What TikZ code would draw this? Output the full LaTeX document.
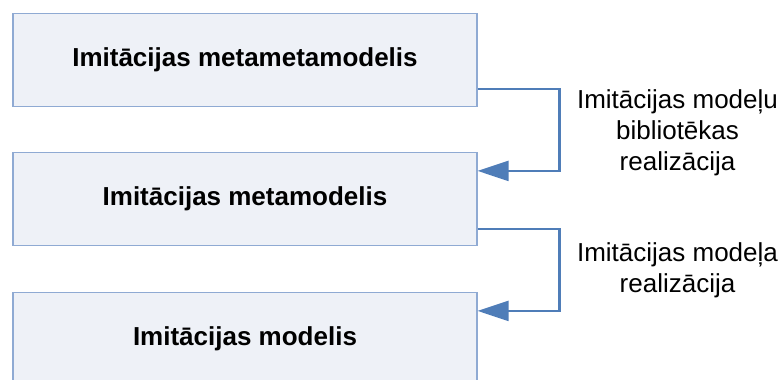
\documentclass[tikz,border=0pt]{standalone}
\usepackage{fontspec}
\setmainfont{Liberation Sans}
\usetikzlibrary{arrows.meta}
\definecolor{boxfill}{HTML}{EEF1F7}
\definecolor{boxline}{HTML}{8FAAD3}
\definecolor{connblue}{HTML}{4F7DB8}
\tikzset{
  level/.style={draw=boxline, fill=boxfill, line width=1.2pt,
    minimum width=464pt, minimum height=93pt, inner sep=0pt,
    font=\fontsize{26}{30}\selectfont\bfseries},
  conn/.style={draw=connblue, line width=2.3pt,
    -{Triangle[length=31pt,width=20pt]}},
  note/.style={align=center, inner sep=0pt,
    font=\fontsize{26}{31}\selectfont}
}
\begin{document}
\begin{tikzpicture}[x=1pt,y=-1pt]
  \useasboundingbox (0,0) rectangle (779,380);
  % three levels of the hierarchy
  \node[level] (b1) at (245,60)  {Imitācijas metametamodelis};
  \node[level] (b2) at (245,199) {Imitācijas metamodelis};
  \node[level] (b3) at (245,339) {Imitācijas modelis};
  % realization arrows between the levels
  \draw[conn] ([yshift=18pt]b1.south east) -- ++(82,0) |- ([yshift=-19pt]b2.north east);
  \draw[conn] ([yshift=17pt]b2.south east) -- ++(82,0) |- ([yshift=-19pt]b3.north east);
  % arrow labels
  \node[note] (l1) at (677.5,133) {Imitācijas modeļu\\bibliotēkas\\realizācija};
  \node[note] (l2) at (677.5,270) {Imitācijas modeļa\\realizācija};
\end{tikzpicture}
\end{document}
